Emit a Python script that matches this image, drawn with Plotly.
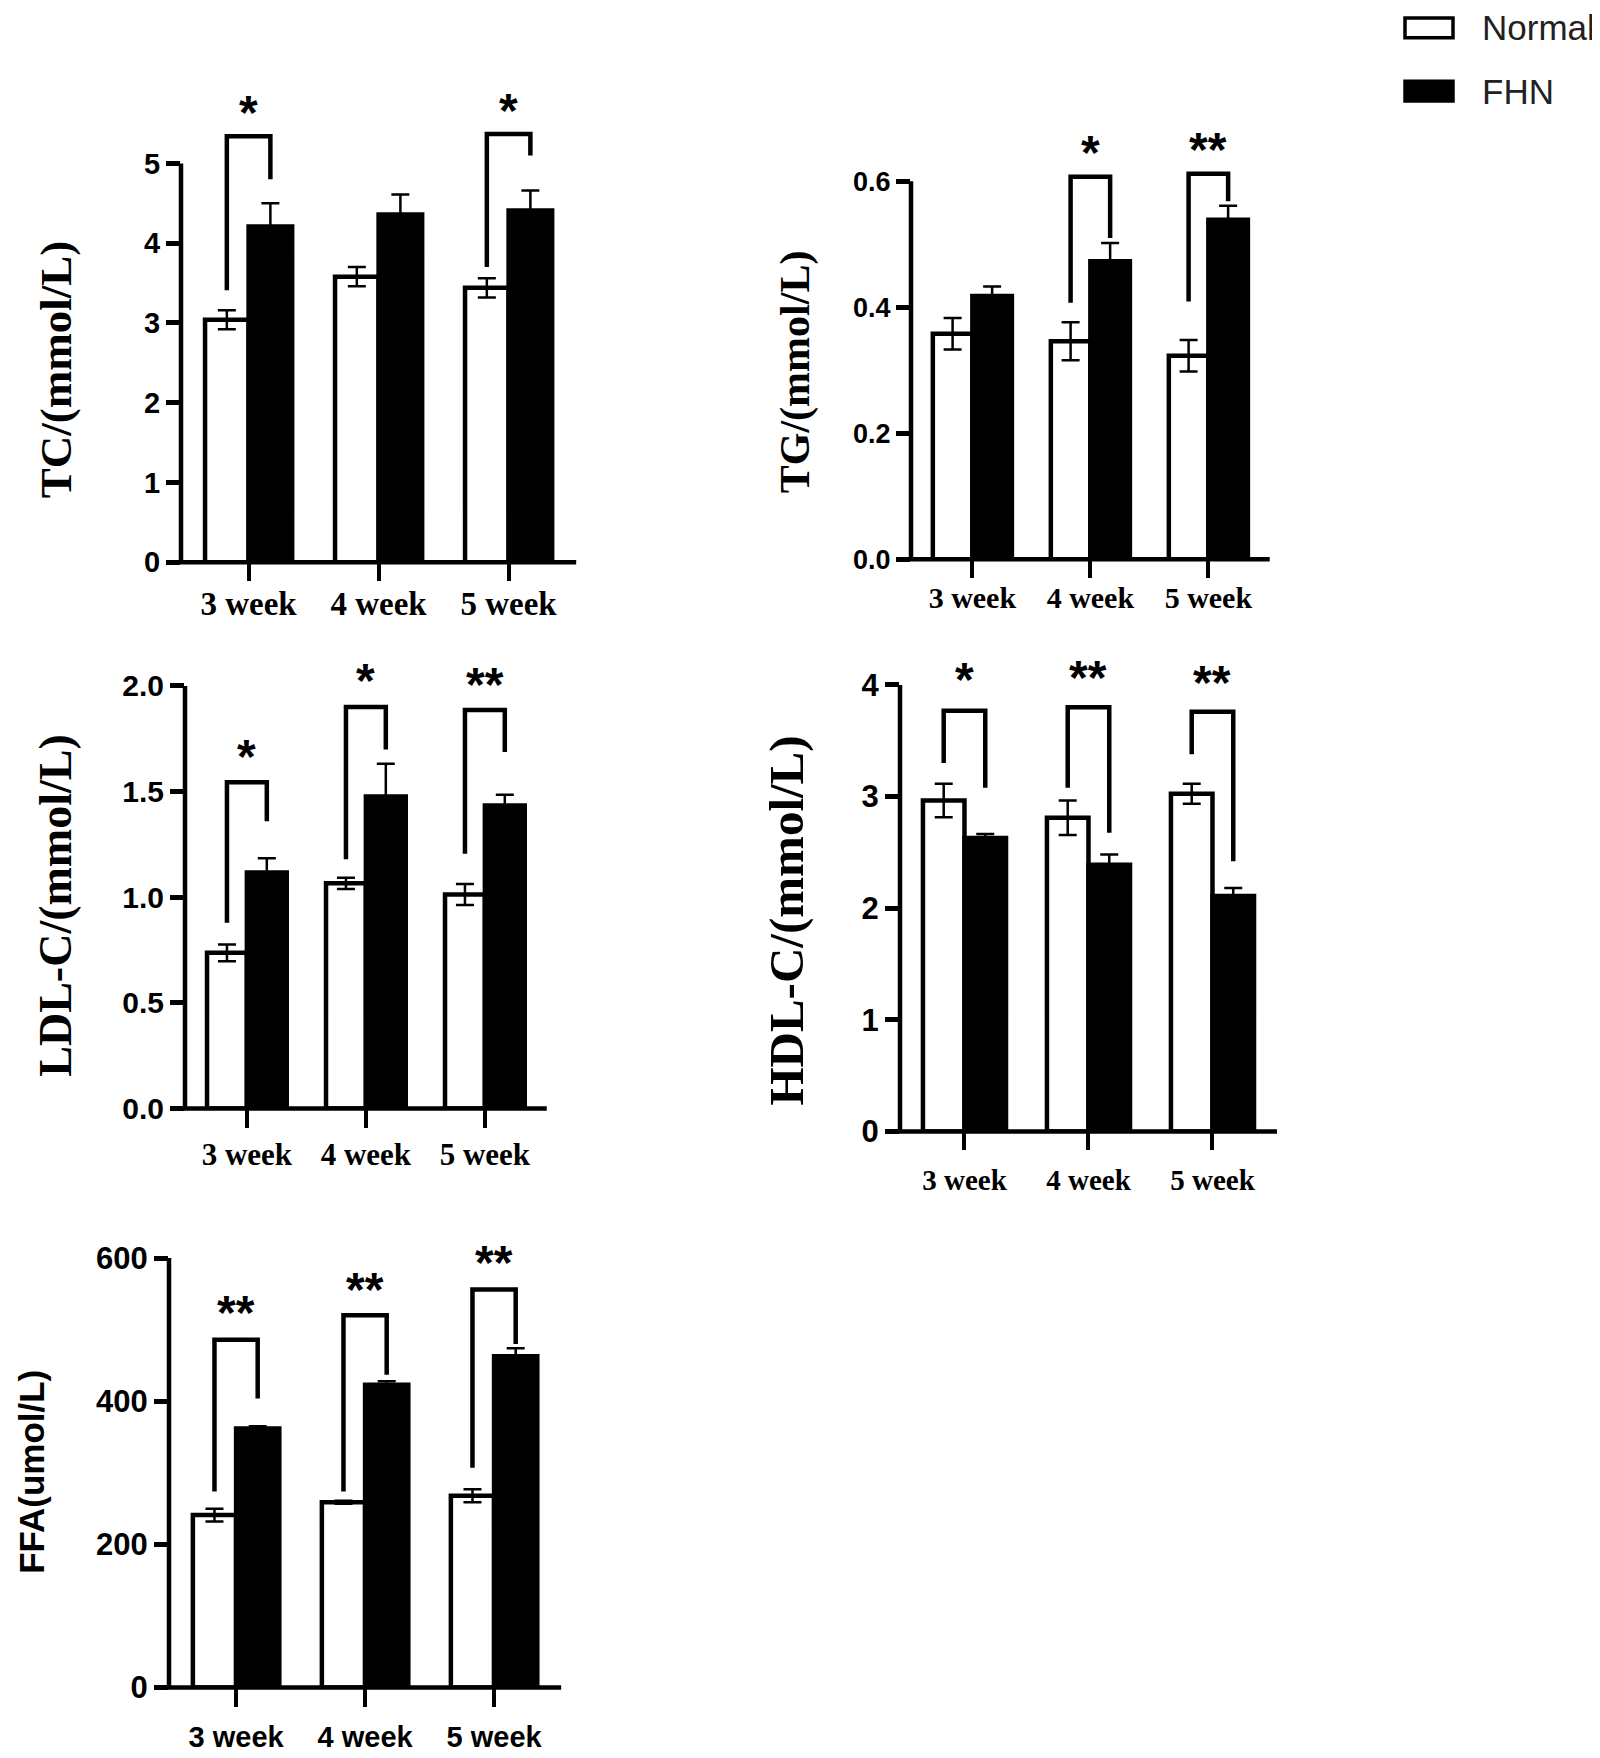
import plotly.graph_objects as go

W, H = 1600, 1758

weeks = ["3 week", "4 week", "5 week"]

# means and SEM
tc_normal = [3.04, 3.58, 3.44]
tc_normal_err = [0.12, 0.12, 0.12]
tc_fhn = [4.21, 4.36, 4.41]
tc_fhn_err = [0.29, 0.25, 0.25]

tg_normal = [0.358, 0.346, 0.323]
tg_normal_err = [0.025, 0.03, 0.025]
tg_fhn = [0.418, 0.473, 0.539]
tg_fhn_err = [0.015, 0.029, 0.022]

ldl_normal = [0.737, 1.066, 1.013]
ldl_normal_err = [0.04, 0.027, 0.05]
ldl_fhn = [1.117, 1.477, 1.435]
ldl_fhn_err = [0.068, 0.155, 0.05]

hdl_normal = [2.965, 2.81, 3.025]
hdl_normal_err = [0.15, 0.155, 0.09]
hdl_fhn = [2.63, 2.39, 2.11]
hdl_fhn_err = [0.035, 0.09, 0.07]

ffa_normal = [241, 259, 268]
ffa_normal_err = [9, 2, 9]
ffa_fhn = [362, 423, 463]
ffa_fhn_err = [3, 5, 11]

# significance: (week index, label, left leg bottom, bracket top, right leg bottom, star y)
tc_sig = [(0, "*", 3.41, 5.34, 4.80, 5.67), (2, "*", 3.70, 5.37, 5.10, 5.70)]
tg_sig = [(1, "*", 0.407, 0.607, 0.510, 0.650), (2, "**", 0.409, 0.612, 0.568, 0.655)]
ldl_sig = [(0, "*", 0.88, 1.544, 1.36, 1.68), (1, "*", 1.18, 1.90, 1.70, 2.04),
           (2, "**", 1.206, 1.886, 1.688, 2.02)]
hdl_sig = [(0, "*", 3.30, 3.77, 3.08, 4.08), (1, "**", 3.08, 3.80, 2.675, 4.095),
           (2, "**", 3.38, 3.76, 2.42, 4.05)]
ffa_sig = [(0, "**", 274, 486, 404, 528), (1, "**", 274, 520, 437, 560),
           (2, "**", 307, 556, 480, 598)]

tc_ticks = [0, 1, 2, 3, 4, 5]
tg_ticks = [0.0, 0.2, 0.4, 0.6]
ldl_ticks = [0.0, 0.5, 1.0, 1.5, 2.0]
hdl_ticks = [0, 1, 2, 3, 4]
ffa_ticks = [0, 200, 400, 600]

SERIF = "Liberation Serif, Times New Roman, serif"
SANS = "Liberation Sans, Arial, sans-serif"

# layout of each panel in pixels
panels = [
    dict(title="TC/(mmol/L)", normal=tc_normal, nerr=tc_normal_err, fhn=tc_fhn, ferr=tc_fhn_err,
         sig=tc_sig, ticks=tc_ticks, fmt="d", ax=173, y0=560, ytop=157, sp=130,
         tfont=29, xfont=33, xfam=SERIF, xoff=-6,
         ttl_x=48, ttl_y=366, ttl_size=45, ttl_fam=SERIF),
    dict(title="TG/(mmol/L)", normal=tg_normal, nerr=tg_normal_err, fhn=tg_fhn, ferr=tg_fhn_err,
         sig=tg_sig, ticks=tg_ticks, fmt=".1f", ax=903, y0=557, ytop=175, sp=118,
         tfont=27, xfont=30, xfam=SERIF, xoff=-6,
         ttl_x=787, ttl_y=368, ttl_size=42, ttl_fam=SERIF),
    dict(title="LDL-C/(mmol/L)", normal=ldl_normal, nerr=ldl_normal_err, fhn=ldl_fhn, ferr=ldl_fhn_err,
         sig=ldl_sig, ticks=ldl_ticks, fmt=".1f", ax=177, y0=1112, ytop=685, sp=119,
         tfont=30, xfont=31, xfam=SERIF, xoff=0,
         ttl_x=48, ttl_y=907, ttl_size=46, ttl_fam=SERIF),
    dict(title="HDL-C/(mmol/L)", normal=hdl_normal, nerr=hdl_normal_err, fhn=hdl_fhn, ferr=hdl_fhn_err,
         sig=hdl_sig, ticks=hdl_ticks, fmt="d", ax=892, y0=1135, ytop=684, sp=124,
         tfont=31, xfont=29, xfam=SERIF, xoff=5,
         ttl_x=779, ttl_y=922, ttl_size=49, ttl_fam=SERIF),
    dict(title="FFA(umol/L)", normal=ffa_normal, nerr=ffa_normal_err, fhn=ffa_fhn, ferr=ffa_fhn_err,
         sig=ffa_sig, ticks=ffa_ticks, fmt="d", ax=161, y0=1697, ytop=1263, sp=129,
         tfont=31, xfont=29, xfam=SANS, xoff=6,
         ttl_x=24, ttl_y=1479, ttl_size=35, ttl_fam=SANS),
]

BARGAP = 0.33
LW = 4.5

fig = go.Figure()
shapes = []
annotations = []
layout = {}

for i, p in enumerate(panels, start=1):
    xa = "x" if i == 1 else f"x{i}"
    ya = "y" if i == 1 else f"y{i}"
    tmax = p["ticks"][-1]
    top_px = p["ytop"] - 110
    ymax = tmax * (p["y0"] - top_px) / (p["y0"] - p["ytop"])
    x_right = p["ax"] + 3.04 * p["sp"]

    fig.add_trace(go.Bar(
        x=[0, 1, 2], y=p["normal"], name="Normal", xaxis=xa, yaxis=ya,
        marker=dict(color="white", line=dict(color="black", width=LW)),
        error_y=dict(type="data", array=p["nerr"], color="black", thickness=2.5, width=9),
        showlegend=False,
    ))
    fig.add_trace(go.Bar(
        x=[0, 1, 2], y=p["fhn"], name="FHN", xaxis=xa, yaxis=ya,
        marker=dict(color="black", line=dict(color="black", width=LW)),
        error_y=dict(type="data", array=p["ferr"], color="black", thickness=2.5, width=9),
        showlegend=False,
    ))

    if p["fmt"] == "d":
        tlabels = [str(int(t)) for t in p["ticks"]]
    else:
        tlabels = [f"{t:.1f}" for t in p["ticks"]]

    layout["xaxis" if i == 1 else f"xaxis{i}"] = dict(
        domain=[p["ax"] / W, x_right / W], anchor=ya, range=[-0.52, 2.52],
        tickvals=[0, 1, 2], ticktext=weeks, ticks="outside", ticklen=18, tickwidth=4,
        tickcolor="black", showline=False, showgrid=False, zeroline=False,
        ticklabelstandoff=p["xoff"],
        tickfont=dict(family=p["xfam"], size=p["xfont"], color="black", weight="bold"),
    )
    layout["yaxis" if i == 1 else f"yaxis{i}"] = dict(
        domain=[1 - p["y0"] / H, 1 - top_px / H], anchor=xa, range=[0, ymax],
        tickvals=p["ticks"], ticktext=tlabels, ticks="outside", ticklen=14, tickwidth=4.5,
        tickcolor="black", showline=False, showgrid=False, zeroline=False,
        tickfont=dict(family=SANS, size=p["tfont"], color="black", weight="bold"),
    )

    # axis lines (y axis stops at the last tick, x axis runs a little past the y axis)
    shapes.append(dict(type="line", xref="paper", yref=ya, x0=p["ax"] / W, x1=p["ax"] / W,
                       y0=0, y1=tmax, line=dict(color="black", width=LW)))
    shapes.append(dict(type="line", xref="paper", yref="paper",
                       x0=(p["ax"] - 14) / W, x1=x_right / W,
                       y0=1 - p["y0"] / H, y1=1 - p["y0"] / H,
                       line=dict(color="black", width=LW)))

    # significance brackets
    off = (1 - BARGAP) / 4
    for (k, lab, lb, tp, rb, sy) in p["sig"]:
        xl, xr = k - off, k + off
        shapes.append(dict(type="path", xref=xa, yref=ya,
                           path=f"M {xl},{lb} L {xl},{tp} L {xr},{tp} L {xr},{rb}",
                           line=dict(color="black", width=LW)))
        annotations.append(dict(x=k, y=sy, xref=xa, yref=ya, text=lab, showarrow=False,
                                xanchor="center", yanchor="middle", yshift=-3,
                                font=dict(family=SANS, size=48, color="black", weight="bold")))

    annotations.append(dict(x=p["ttl_x"] / W, y=1 - p["ttl_y"] / H, xref="paper", yref="paper",
                            text=p["title"], textangle=-90, showarrow=False,
                            xanchor="center", yanchor="middle",
                            font=dict(family=p["ttl_fam"], size=p["ttl_size"], color="black",
                                      weight="bold")))

# legend drawn by hand at top right
legend_items = ["Normal", "FHN"]
legend_fill = ["white", "black"]
legend_y = [20, 84]
for lab, fill, ly in zip(legend_items, legend_fill, legend_y):
    shapes.append(dict(type="rect", xref="paper", yref="paper",
                       x0=1397 / W, x1=1445 / W, y0=1 - (ly - 10) / H, y1=1 - (ly + 10) / H,
                       fillcolor=fill, line=dict(color="black", width=3.5)))
    annotations.append(dict(x=1472 / W, y=1 - ly / H, xref="paper", yref="paper", text=lab,
                            showarrow=False, xanchor="left", yanchor="middle",
                            font=dict(family=SANS, size=35, color="#222222")))

fig.update_layout(
    width=W, height=H, margin=dict(l=0, r=0, t=0, b=0),
    paper_bgcolor="white", plot_bgcolor="white",
    barmode="group", bargap=BARGAP, bargroupgap=0,
    shapes=shapes, annotations=annotations, showlegend=False,
    **layout,
)

fig.write_html("out.html")
